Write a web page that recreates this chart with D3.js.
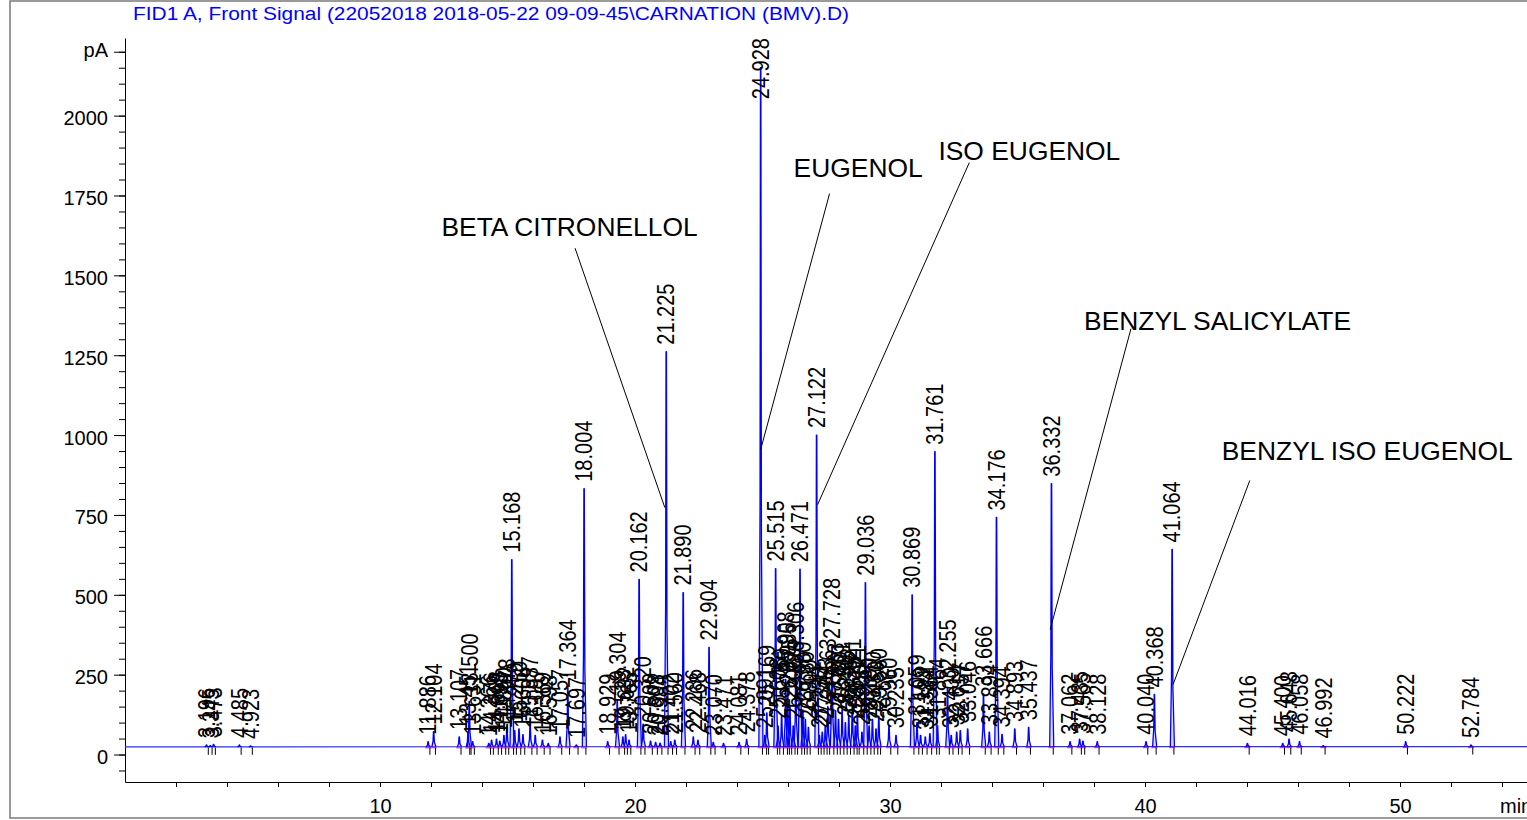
<!DOCTYPE html>
<html>
<head>
<meta charset="utf-8">
<script src="https://cdn.jsdelivr.net/npm/d3@7"></script>
<style>
  body { margin: 0; background: #fff; }
  svg { display: block; font-family: "Liberation Sans", Arial, sans-serif; }
</style>
</head>
<body>
<div id="chart"></div>
<script>
// ---- data ----
const titleText = "FID1 A, Front Signal (22052018 2018-05-22 09-09-45\\CARNATION (BMV).D)";

// retention times (min) of labelled peaks
const peakTimes = [
  3.196, 3.345, 3.473, 4.485, 4.923,
  11.886, 12.104, 13.107, 13.451, 13.500, 13.631,
  14.266, 14.376, 14.568, 14.698, 14.860, 14.978, 15.168, 15.279, 15.450, 15.606, 15.887, 16.087, 16.369, 16.598, 17.057, 17.364, 17.697, 18.004,
  18.929, 19.304, 19.523, 19.632, 19.765, 20.162, 20.320, 20.609, 20.808, 20.984, 21.225, 21.402, 21.560, 21.890, 22.286, 22.468, 22.904, 23.070, 23.471, 24.081, 24.378, 24.928,
  25.091, 25.169, 25.515, 25.608, 25.750, 25.908, 25.985, 26.075, 26.206, 26.306, 26.471, 26.580, 26.680, 26.800, 27.122, 27.230, 27.344, 27.463, 27.563, 27.728, 27.863, 27.980,
  28.121, 28.250, 28.382, 28.521, 28.640, 28.721, 28.900, 29.036, 29.180, 29.310, 29.450, 29.560, 29.960, 30.235, 30.869,
  31.059, 31.199, 31.384, 31.564, 31.761, 31.864, 32.255, 32.400, 32.614, 32.757, 33.046, 33.666, 33.894, 34.176, 34.394, 34.893, 35.437, 36.332,
  37.062, 37.435, 37.565, 38.128, 40.040, 40.368, 41.064, 44.016, 45.400, 45.648, 46.058, 46.992, 50.222, 52.784
];

// apex signal (pA) of each peak
const peakHeights = [
  30, 28, 32, 30, 27,
  40, 72, 55, 70, 166, 40,
  35, 45, 48, 42, 60, 88, 610, 75, 80, 62, 95, 60, 45, 35, 55, 210, 30, 832,
  40, 172, 55, 62, 45, 548, 95, 42, 38, 36, 1261, 40, 45, 507, 55, 45, 335, 38, 35, 38, 47, 2150,
  60, 130, 582, 90, 120, 235, 200, 150, 90, 265, 580, 140, 110, 85, 1000, 60, 70, 90, 150, 340, 137, 110,
  140, 100, 120, 150, 90, 130, 70, 538, 90, 110, 80, 120, 90, 60, 500,
  100, 60, 55, 65, 948, 90, 210, 60, 70, 75, 80, 190, 70, 742, 63, 80, 85, 848,
  40, 48, 42, 40, 40, 188, 642, 35, 35, 48, 40, 28, 40, 30
];

// detector baseline (pA)
const baselineTimes = [0, 55];
const baselineValues = [24, 25];

// axis ticks
const yMajorTicks = [0, 250, 500, 750, 1000, 1250, 1500, 1750, 2000, 2200];
const yMinorTicks = d3.range(-50, 2201, 50);
const xTicks = d3.range(2, 55, 2);
const xLabelled = [10, 20, 30, 40, 50];

// compound annotations: name, text anchor (min, pA), leader line from -> to (min, pA)
const annoNames = ["BETA CITRONELLOL", "EUGENOL", "ISO EUGENOL", "BENZYL SALICYLATE", "BENZYL ISO EUGENOL"];
const annoText = [[12.41, 1624], [26.22, 1809], [31.90, 1862], [37.61, 1330], [43.01, 923]];
const annoFrom = [[17.65, 1585], [27.63, 1756], [33.11, 1853], [39.45, 1333], [44.11, 858]];
const annoTo   = [[21.17, 773], [24.93, 955], [27.16, 782], [36.28, 391], [41.10, 219]];

// ---- layout ----
const W = 1527, H = 820;
const plot = {left: 125, right: 1527.5, top: 38, bottom: 782};

const svg = d3.select("#chart").append("svg")
  .attr("width", W).attr("height", H);

const x = d3.scaleLinear().domain([0, 55]).range([plot.left, plot.right]);
const y = d3.scaleLinear().domain([-86, 2243]).range([plot.bottom, plot.top]);
const base = d3.scaleLinear().domain(baselineTimes).range(baselineValues);

// outer frame
svg.append("rect")
  .attr("x", 10).attr("y", 1)
  .attr("width", W).attr("height", 817)
  .attr("fill", "none")
  .attr("stroke", "#7a7a7a")
  .attr("stroke-width", 1.5);

// title
svg.append("text")
  .attr("x", 133).attr("y", 20)
  .attr("fill", "#0000ff")
  .style("font-size", "18px")
  .attr("textLength", 716)
  .attr("lengthAdjust", "spacingAndGlyphs")
  .text(titleText);

// y axis: minor then major ticks
const yMinor = svg.append("g")
  .attr("transform", "translate(" + plot.left + ",0)")
  .call(d3.axisLeft(y).tickValues(yMinorTicks).tickSize(6).tickSizeOuter(0).tickFormat(""));
yMinor.select(".domain").remove();

const yMajor = svg.append("g")
  .attr("transform", "translate(" + plot.left + ",0)")
  .call(d3.axisLeft(y).tickValues(yMajorTicks).tickSize(11).tickSizeOuter(0).tickPadding(6)
    .tickFormat(d => d === 2200 ? "pA" : d));
yMajor.selectAll("text")
  .style("font-size", "20px")
  .attr("fill", "#000")
  .attr("dy", d => d === 2200 ? "0.25em" : "0.45em");

// x axis
const xAxis = svg.append("g")
  .attr("transform", "translate(0," + plot.bottom + ")")
  .call(d3.axisBottom(x).tickValues(xTicks).tickSize(5).tickSizeOuter(0).tickPadding(12)
    .tickFormat(d => xLabelled.includes(d) ? d : ""));
xAxis.selectAll("text").style("font-size", "20px").attr("fill", "#000");

svg.append("text")
  .attr("x", 1500).attr("y", 813)
  .style("font-size", "20px")
  .text("min");

[yMinor, yMajor, xAxis].forEach(g => {
  g.selectAll("line").attr("stroke", "#000");
  g.selectAll(".domain").attr("stroke", "#000");
});

// ---- signal ----
const peaks = peakTimes.map((t, i) => ({t: t, h: peakHeights[i]}));

const plotArea = svg.append("g");

// integration baseline (magenta)
plotArea.append("g").selectAll("line")
  .data(peaks.filter(p => p.t > 11))
  .join("line")
  .attr("x1", d => x(d.t - 0.12))
  .attr("x2", d => x(d.t + 0.12))
  .attr("y1", d => y(base(d.t)) + 1)
  .attr("y2", d => y(base(d.t)) + 1)
  .attr("stroke", "#ff33cc")
  .attr("stroke-width", 1.2);

// detector baseline
plotArea.append("path")
  .datum(baselineTimes.map((t, i) => [t, baselineValues[i]]))
  .attr("d", d3.line().x(d => x(d[0])).y(d => y(d[1])))
  .attr("fill", "none")
  .attr("stroke", "#2b2bff")
  .attr("stroke-width", 1.2);

// each peak as a narrow spike
const spike = d3.line().x(d => x(d[0])).y(d => y(d[1])).curve(d3.curveLinear);
plotArea.append("g").selectAll("path")
  .data(peaks)
  .join("path")
  .attr("d", d => {
    const b = base(d.t);
    return spike([
      [d.t - 0.07, b],
      [d.t - 0.025, b + (d.h - b) * 0.35],
      [d.t - 0.008, d.h],
      [d.t + 0.008, d.h],
      [d.t + 0.03, b + (d.h - b) * 0.3],
      [d.t + 0.09, b]
    ]);
  })
  .attr("fill", "rgba(0,0,255,0.15)")
  .attr("stroke", "#0000ff")
  .attr("stroke-width", 1.3)
  .attr("stroke-linejoin", "round");

// peak end tick marks
plotArea.append("g").selectAll("line")
  .data(peaks)
  .join("line")
  .attr("x1", d => x(d.t + 0.07))
  .attr("x2", d => x(d.t + 0.07))
  .attr("y1", d => y(base(d.t)) + 1)
  .attr("y2", d => y(base(d.t)) + 8)
  .attr("stroke", "#000")
  .attr("stroke-width", 1);

// retention time labels, rotated
const labels = plotArea.append("g").selectAll("text")
  .data(peaks)
  .join("text")
  .style("font-size", "20px")
  .attr("fill", "#000")
  .attr("dy", "0.35em")
  .attr("text-anchor", "start")
  .text(d => d.t.toFixed(3));

labels.attr("transform", function (d) {
  const len = this.getComputedTextLength();
  let yy = y(d.h) - 7;
  if (yy - len < plot.top) yy = plot.top + len;
  return "translate(" + x(d.t) + "," + yy + ") rotate(-90) scale(1,1.18)";
});

// compound annotations
const anno = svg.append("g");
annoNames.forEach((name, i) => {
  anno.append("line")
    .attr("x1", x(annoFrom[i][0])).attr("y1", y(annoFrom[i][1]))
    .attr("x2", x(annoTo[i][0])).attr("y2", y(annoTo[i][1]))
    .attr("stroke", "#000")
    .attr("stroke-width", 1);
  anno.append("text")
    .attr("x", x(annoText[i][0])).attr("y", y(annoText[i][1]))
    .style("font-size", "26.4px")
    .attr("fill", "#000")
    .text(name);
});
</script>
</body>
</html>
